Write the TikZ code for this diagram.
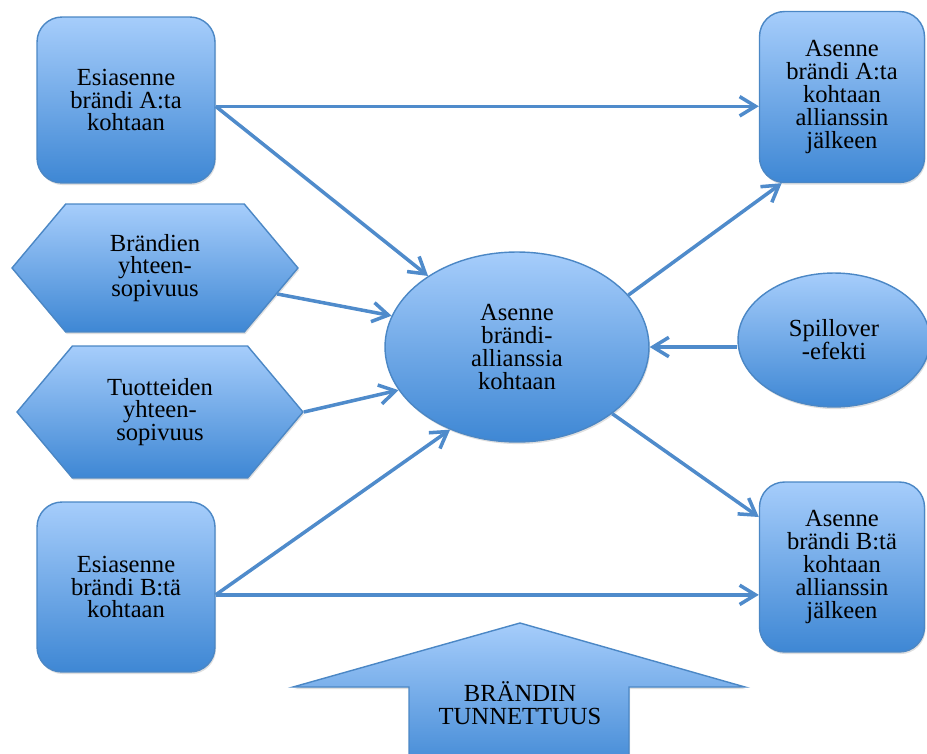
\documentclass[tikz,border=0pt]{standalone}
\usepackage{fontspec}
\setmainfont{Liberation Serif}
\usetikzlibrary{shapes.geometric,shapes.symbols,arrows.meta,shadows}
\definecolor{boxtop}{HTML}{A6CDFB}
\definecolor{boxbot}{HTML}{3E87D4}
\definecolor{boxline}{HTML}{4B87C5}
\definecolor{arrline}{HTML}{4F8BCB}
\tikzset{
  blob/.style={draw=boxline,line width=0.8pt,top color=boxtop,bottom color=boxbot,
    align=center,inner sep=0pt,font=\fontsize{14}{13}\selectfont,
    drop shadow={shadow xshift=0.6pt,shadow yshift=-1.2pt,opacity=0.25}},
  rbox/.style={blob,rectangle,rounded corners=0.5cm},
  hexa/.style={blob,signal,signal to=west and east,signal pointer angle=100,minimum width=5.72cm},
  oval/.style={blob,ellipse},
  link/.style={draw=arrline,line width=2pt,-{Straight Barb[length=9pt,width=11pt]}}
}

\begin{document}
\begin{tikzpicture}[x=0.02cm,y=-0.02cm]
\useasboundingbox (0,0) rectangle (927,754);
\clip (0,0) rectangle (927,754);
% big arrow at the bottom
\path[blob] (293,687)--(520,623)--(745,687)--(629,687)--(629,775)--(409,775)--(409,687)--cycle;
\node[align=center,font=\fontsize{14}{13}\selectfont](tunn) at (520,703){BRÄNDIN\\TUNNETTUUS};
% nodes
\node[rbox,minimum width=3.56cm,minimum height=3.32cm](esiA) at (126,100){Esiasenne\\brändi A:ta\\kohtaan};
\node[rbox,minimum width=3.56cm,minimum height=3.40cm](esiB) at (126,587){Esiasenne\\brändi B:tä\\kohtaan};
\node[hexa,minimum height=2.56cm](hex1) at (155,268){Brändien\\yhteen-\\sopivuus};
\node[hexa,minimum height=2.64cm](hex2) at (160,412){Tuotteiden\\yhteen-\\sopivuus};
\node[oval,minimum width=5.28cm,minimum height=3.8cm](ell) at (517,347){Asenne\\brändi-\\allianssia\\kohtaan};
\node[oval,minimum width=3.84cm,minimum height=2.68cm](spill) at (834,340){Spillover\\-efekti};
\node[rbox,minimum width=3.3cm,minimum height=3.42cm](asA) at (842,97){Asenne\\brändi A:ta\\kohtaan\\allianssin\\jälkeen};
\node[rbox,minimum width=3.3cm,minimum height=3.40cm](asB) at (842,567){Asenne\\brändi B:tä\\kohtaan\\allianssin\\jälkeen};
% connectors
\draw[link](esiA.-4)--(esiA.-4 -| asA.west);
\draw[link](esiA.-4)--(ell);
\draw[link](hex1.-12)--(ell.166);
\draw[link](hex2.east)--(ell.200);
\draw[link](esiB.-5)--(ell.231);
\draw[link](esiB.-5)--(esiB.-5 -| asB.west);
\draw[link](ell.25)--(asA.235);
\draw[link](spill.west |- ell.east)--(ell.east);
\draw[link](ell.-35)--(asB.149);
\end{tikzpicture}
\end{document}
